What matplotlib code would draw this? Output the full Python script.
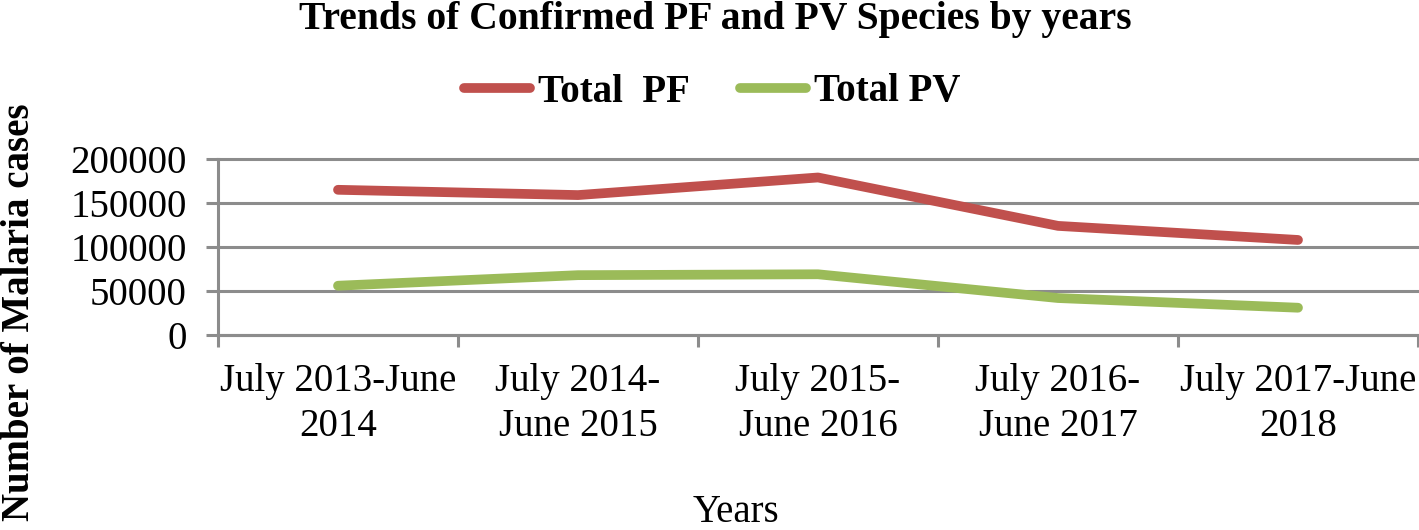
import numpy as np
from matplotlib import pyplot as plt

# data
periods = ['July 2013-June\n2014', 'July 2014-\nJune 2015', 'July 2015-\nJune 2016',
           'July 2016-\nJune 2017', 'July 2017-June\n2018']
total_pf = [165000, 159000, 179000, 124000, 108000]
total_pv = [56000, 68000, 69000, 42000, 31000]
y_ticks = [0, 50000, 100000, 150000, 200000]

plt.rcParams['font.family'] = ['Liberation Serif', 'DejaVu Serif']
plt.rcParams['font.size'] = 28

grey = '#8c8c8c'
W, H = 1419, 530


def main():
    fig = plt.figure(figsize=(W / 100, H / 100), dpi=100)
    ax = fig.add_axes([218 / W, 1 - 335 / H, 1200 / W, 176 / H])

    x = np.arange(len(periods))
    ax.plot(x, total_pf, color='#c0504d', lw=7, solid_capstyle='round',
            solid_joinstyle='round', label='Total  PF')
    ax.plot(x, total_pv, color='#9bbb59', lw=7, solid_capstyle='round',
            solid_joinstyle='round', label='Total PV')

    ax.set_xlim(-0.5, len(periods) - 0.5)
    ax.set_ylim(0, 200000)
    ax.set_yticks(y_ticks)
    ax.set_yticklabels([str(v) for v in y_ticks])
    ax.set_xticks(x)
    ax.set_xticklabels(periods, linespacing=1.3)
    ax.set_xticks(np.arange(-0.5, len(periods)), minor=True)

    ax.yaxis.grid(True, color=grey, lw=2.2)
    for gl in ax.get_ygridlines():
        gl.set_clip_on(False)
    ax.set_axisbelow(True)

    for side in ['top', 'right']:
        ax.spines[side].set_visible(False)
    for side in ['left', 'bottom']:
        ax.spines[side].set_color(grey)
        ax.spines[side].set_linewidth(2.2)

    ax.tick_params(axis='y', direction='out', length=8.5, width=2.2, color=grey, pad=14)
    ax.tick_params(axis='x', which='major', length=0, pad=20)
    ax.tick_params(axis='x', which='minor', direction='out', length=8.5, width=2.2, color=grey)

    fig.text(715 / W, 1 - 20 / H, 'Trends of Confirmed PF and PV Species by years',
             ha='center', va='center', fontweight='bold', fontsize=28.5)
    fig.text(20 / W, 1 - 312 / H, 'Number of Malaria cases', rotation=90,
             ha='center', va='center', fontweight='bold', fontsize=28)
    fig.text(736 / W, 1 - 512 / H, 'Years', ha='center', va='center', fontsize=28)

    fig.legend(loc='center', bbox_to_anchor=(712 / W, 1 - 92 / H), ncol=2, frameon=False,
               handlelength=1.7, handletextpad=0.2, columnspacing=1.3,
               prop={'weight': 'bold', 'size': 28})

    fig.savefig('out.png', dpi=100)


if __name__ == '__main__':
    main()
